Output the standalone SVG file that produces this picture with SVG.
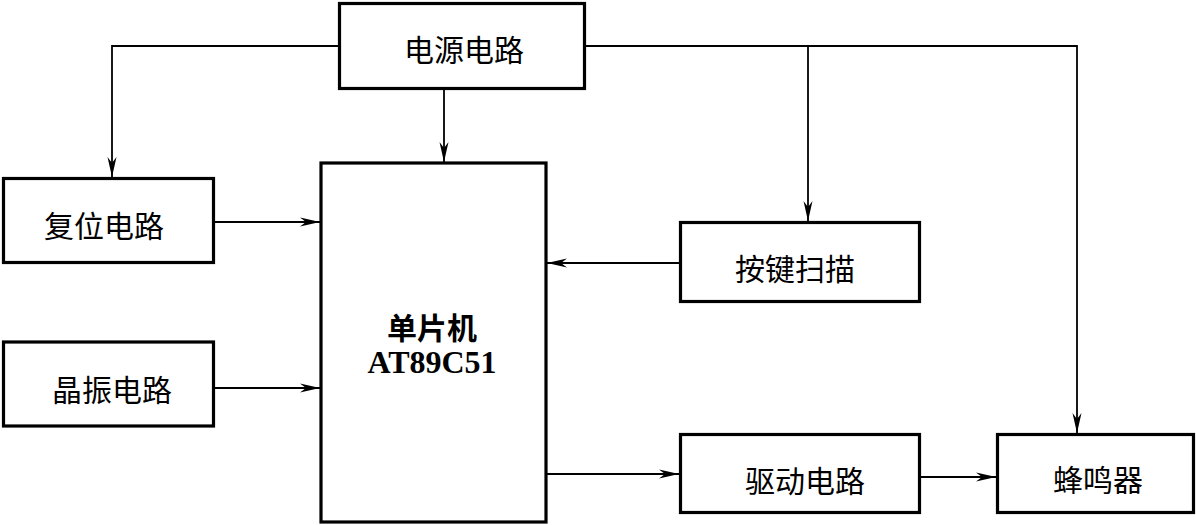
<svg xmlns="http://www.w3.org/2000/svg" width="1196" height="525" viewBox="0 0 1196 525">
<style>
.box{fill:#fff;stroke:#000;stroke-width:3.2}
.cn{font-family:"Noto Sans CJK SC","Noto Sans",sans-serif;font-size:30px;fill:#000;text-anchor:middle;dominant-baseline:central}
.bold{font-weight:bold}
.en{font-family:"Liberation Serif",serif;font-size:32px;font-weight:bold;fill:#000;text-anchor:middle;dominant-baseline:central}
.wire{fill:none;stroke:#000;stroke-width:1.8}
</style>
<defs>
<marker id="arr" markerUnits="userSpaceOnUse" markerWidth="22" markerHeight="12" refX="20" refY="6" orient="auto">
<path d="M0,1.5 L20,6 L0,10.5 L6,6 Z" fill="#000"/>
</marker>
</defs>
<rect width="1196" height="525" fill="#fff"/>
<g id="connectors">
<path class="wire" d="M339,46 H112 V177" marker-end="url(#arr)"/>
<path class="wire" d="M444,89 V162" marker-end="url(#arr)"/>
<path class="wire" d="M586,46 H1077 V433" marker-end="url(#arr)"/>
<path class="wire" d="M808,46 V221" marker-end="url(#arr)"/>
<path class="wire" d="M214,222 H320" marker-end="url(#arr)"/>
<path class="wire" d="M214,388 H320" marker-end="url(#arr)"/>
<path class="wire" d="M679,263 H547" marker-end="url(#arr)"/>
<path class="wire" d="M547,474 H679" marker-end="url(#arr)"/>
<path class="wire" d="M920,477 H996" marker-end="url(#arr)"/>
</g>
<g id="power">
<rect class="box" x="339.5" y="3.5" width="245" height="85"/>
<text class="cn" x="464" y="48">电源电路</text>
</g>
<g id="mcu">
<rect class="box" x="321" y="163" width="225" height="359"/>
<text class="cn bold" x="432" y="326">单片机</text>
<text class="en" x="432" y="362">AT89C51</text>
</g>
<g id="reset">
<rect class="box" x="3.5" y="178.5" width="210" height="84"/>
<text class="cn" x="104" y="224">复位电路</text>
</g>
<g id="crystal">
<rect class="box" x="3.5" y="342" width="210" height="84"/>
<text class="cn" x="112" y="388">晶振电路</text>
</g>
<g id="keys">
<rect class="box" x="680.5" y="222.5" width="239" height="79"/>
<text class="cn" x="795" y="267">按键扫描</text>
</g>
<g id="driver">
<rect class="box" x="680.5" y="434.5" width="239" height="78"/>
<text class="cn" x="805" y="479">驱动电路</text>
</g>
<g id="buzzer">
<rect class="box" x="997.5" y="434.5" width="196" height="78"/>
<text class="cn" x="1098" y="478">蜂鸣器</text>
</g>
</svg>
